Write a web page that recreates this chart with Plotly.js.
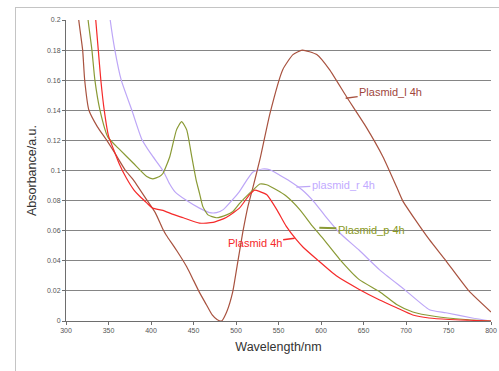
<!DOCTYPE html>
<html>
<head>
<meta charset="utf-8">
<script src="https://cdn.plot.ly/plotly-3.0.1.min.js"></script>
<style>
html,body{margin:0;padding:0;background:#fff;}
#wrap{position:relative;width:499px;height:371px;overflow:hidden;}
#chart{position:absolute;left:0;top:0;width:499px;height:371px;}
#frame{position:absolute;left:15px;top:7px;width:520px;height:400px;border-left:1.5px solid #c4c4c4;border-top:1.5px solid #c4c4c4;pointer-events:none;}
</style>
</head>
<body>
<div id="wrap"><div id="chart"></div><div id="frame"></div></div>
<script>
// Plasmid_l 4h (brown)
const wlL = [313, 315, 319.6, 322, 327, 337, 348, 357, 370, 379, 395, 405, 414, 418, 430, 442, 450, 457, 465, 472, 478, 483, 489, 496, 502, 508, 514, 520, 528, 540, 555, 567, 578, 595, 610, 630, 653, 673, 689, 696, 710, 727.5, 747, 774, 800];
const absL = [0.215, 0.2, 0.18, 0.16, 0.14, 0.129, 0.12, 0.112, 0.1, 0.094, 0.0805, 0.072, 0.061, 0.057, 0.047, 0.036, 0.027, 0.019, 0.011, 0.004, 0.0008, 0.0, 0.006, 0.019, 0.039, 0.059, 0.076, 0.089, 0.107, 0.138, 0.167, 0.177, 0.180, 0.177, 0.167, 0.149, 0.129, 0.109, 0.089, 0.080, 0.068, 0.054, 0.040, 0.020, 0.006];

// Plasmid 4h (red)
const wlA = [333, 335, 338, 341, 345, 350, 356, 363, 371, 380, 387, 395, 402, 414, 425, 438, 457, 473, 481, 489, 504, 516, 522, 528, 536, 548, 559, 571, 579, 595, 618, 645, 669, 689, 708, 727, 751, 775, 800];
const absA = [0.215, 0.2, 0.18, 0.16, 0.14, 0.123, 0.114, 0.104, 0.095, 0.087, 0.0827, 0.0785, 0.075, 0.0735, 0.071, 0.0686, 0.065, 0.0655, 0.067, 0.069, 0.075, 0.084, 0.087, 0.086, 0.084, 0.074, 0.063, 0.054, 0.049, 0.041, 0.030, 0.021, 0.014, 0.0088, 0.004, 0.002, 0.001, 0.0005, 0];

// Plasmid_p 4h (olive)
const wlP = [324, 326, 330.5, 334, 340, 349.5, 363, 379, 395, 402, 410, 414, 422, 430, 436, 442, 448, 453, 457, 461, 467, 477, 489, 496, 504, 516, 520, 528, 536, 548, 559, 575, 590, 602, 622, 645, 669, 689, 708, 735, 770, 800];
const absP = [0.215, 0.2, 0.18, 0.16, 0.14, 0.122, 0.114, 0.105, 0.096, 0.0945, 0.096, 0.098, 0.109, 0.127, 0.1325, 0.127, 0.109, 0.094, 0.085, 0.076, 0.0705, 0.0686, 0.0705, 0.0726, 0.078, 0.085, 0.087, 0.091, 0.0905, 0.087, 0.083, 0.074, 0.063, 0.055, 0.041, 0.0275, 0.0195, 0.011, 0.006, 0.003, 0.001, 0];

// plasmid_r 4h (lavender)
const wlR = [350, 352, 357.5, 365, 377.5, 389, 400, 414, 422, 428, 442, 457, 469, 477, 485, 496, 504, 512, 520, 531, 540, 551, 563, 578, 592, 606, 622, 645, 669, 698, 727.5, 747, 778, 800];
const absR = [0.21, 0.2, 0.18, 0.16, 0.14, 0.121, 0.111, 0.1, 0.091, 0.086, 0.080, 0.075, 0.072, 0.072, 0.074, 0.0806, 0.086, 0.093, 0.099, 0.101, 0.1005, 0.097, 0.093, 0.087, 0.079, 0.069, 0.0585, 0.047, 0.034, 0.021, 0.0075, 0.0055, 0.002, 0];

const seriesNames = ['Plasmid_l 4h', 'Plasmid 4h', 'Plasmid_p 4h', 'plasmid_r 4h'];
const xTicks = [300, 350, 400, 450, 500, 550, 600, 650, 700, 750, 800];
const yTicks = [0, 0.02, 0.04, 0.06, 0.08, 0.1, 0.12, 0.14, 0.16, 0.18, 0.2];

const cBrown = '#a8523f', cRed = '#f52a2a', cOlive = '#8a9a35', cLav = '#bda6f7';

const mk = (x, y, name, color) => ({x: x, y: y, name: name, type: 'scatter', mode: 'lines',
  line: {color: color, width: 1.2, shape: 'spline', smoothing: 0.5}, hoverinfo: 'skip'});

const data = [
  mk(wlR, absR, seriesNames[3], cLav),
  mk(wlL, absL, seriesNames[0], cBrown),
  mk(wlP, absP, seriesNames[2], cOlive),
  mk(wlA, absA, seriesNames[1], cRed)
];

const annFont = (c) => ({family: 'Liberation Sans, Arial, sans-serif', size: 11, color: c});
const layout = {
  width: 499, height: 371,
  margin: {l: 66, r: 8, t: 20, b: 50},
  paper_bgcolor: 'rgba(0,0,0,0)', plot_bgcolor: '#fff',
  showlegend: false,
  font: {family: 'Liberation Sans, Arial, sans-serif'},
  xaxis: {
    range: [300, 800], tickvals: xTicks, ticktext: xTicks.map(String),
    showgrid: false, zeroline: false, showline: true, linecolor: '#6e6e6e', linewidth: 1,
    ticks: 'outside', ticklen: 3, tickcolor: '#6e6e6e',
    tickfont: {size: 7, color: '#555'},
    title: {text: 'Wavelength/nm', font: {size: 12.5, color: '#333'}, standoff: 8}
  },
  yaxis: {
    range: [0, 0.2], tickvals: yTicks, ticktext: yTicks.map(v => String(v)),
    showgrid: true, gridcolor: '#858585', gridwidth: 1,
    zeroline: false, showline: true, linecolor: '#6e6e6e', linewidth: 1,
    ticks: 'outside', ticklen: 3, tickcolor: '#6e6e6e',
    tickfont: {size: 7, color: '#555'},
    title: {text: 'Absorbance/a.u.', font: {size: 12.5, color: '#333'}, standoff: 7}
  },
  annotations: [
    {x: 629, y: 0.148, text: seriesNames[0], showarrow: true, arrowhead: 0, arrowwidth: 1.3, arrowcolor: cBrown,
     ax: 45, ay: -6, standoff: 0, font: annFont('#a0463c')},
    {x: 571, y: 0.089, text: seriesNames[3], showarrow: true, arrowhead: 0, arrowwidth: 1.3, arrowcolor: cLav,
     ax: 47, ay: -2, standoff: 0, font: annFont('#c2aaff')},
    {x: 598, y: 0.062, text: seriesNames[2], showarrow: true, arrowhead: 0, arrowwidth: 2, arrowcolor: cOlive,
     ax: 52, ay: 2, standoff: 0, font: annFont('#8a9a25')},
    {x: 569, y: 0.055, text: seriesNames[1], showarrow: true, arrowhead: 0, arrowwidth: 1.5, arrowcolor: cRed,
     ax: -40, ay: 5, standoff: 0, font: annFont('#f52a2a')}
  ]
};

Plotly.newPlot('chart', data, layout, {displayModeBar: false, staticPlot: true});
</script>
</body>
</html>
